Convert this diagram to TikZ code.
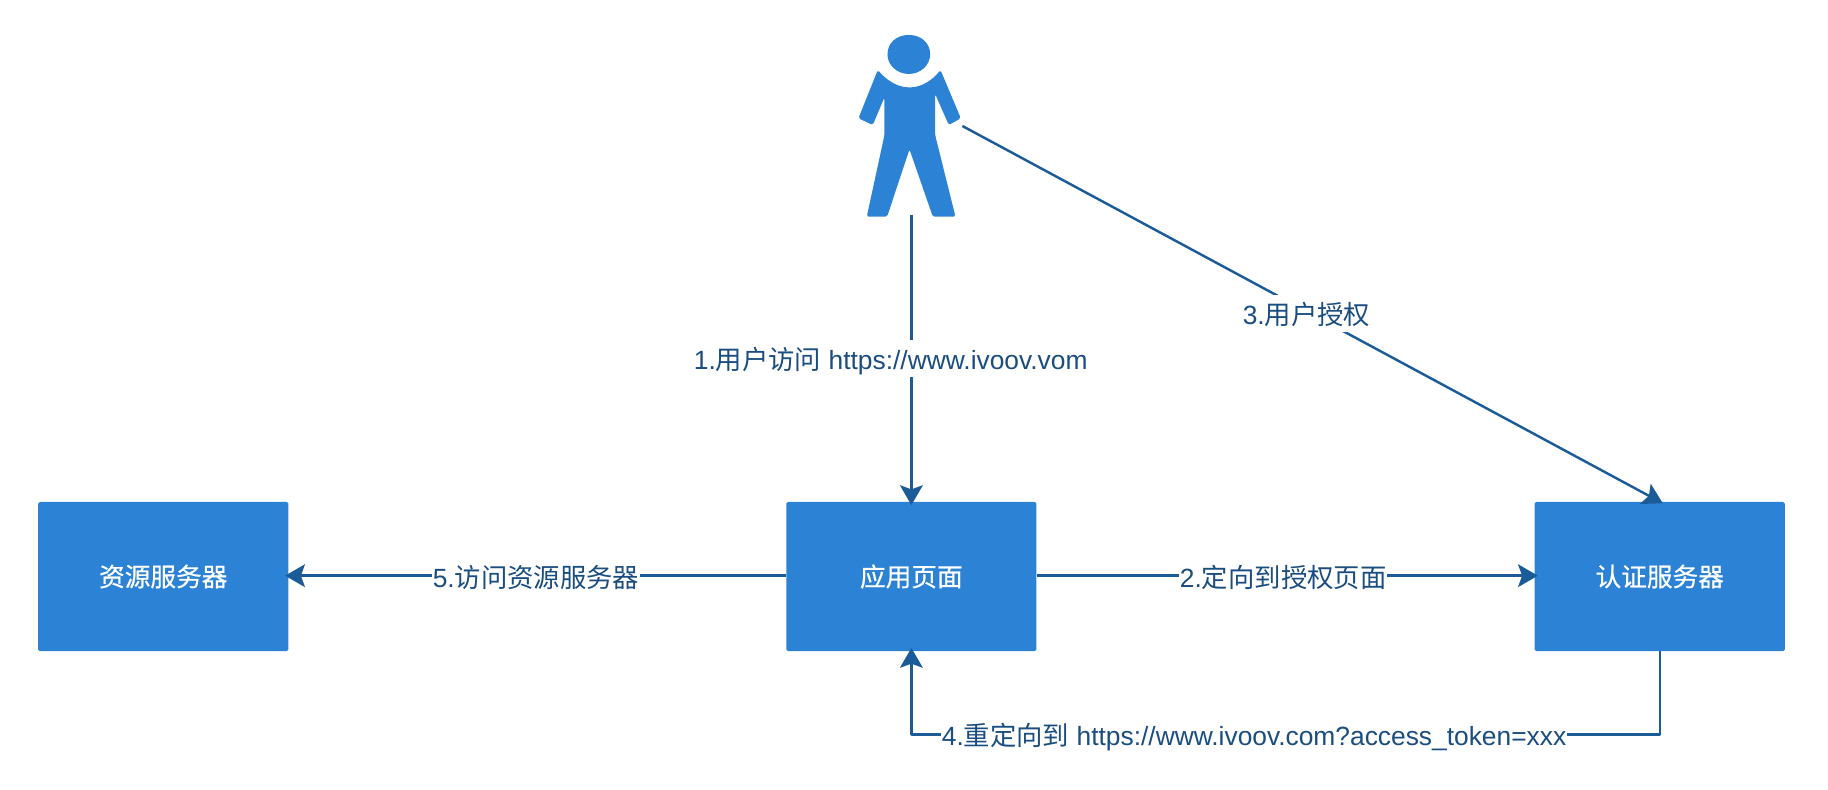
\documentclass[tikz,border=0pt]{standalone}
\usepackage{fontspec}
\setmainfont{Liberation Sans}
\newfontfamily\cjk{Noto Sans CJK SC}
\newfontfamily\cjkm[FakeBold=0.6]{Noto Sans CJK SC}
\usetikzlibrary{arrows.meta}
\definecolor{boxblue}{HTML}{2C83D5}
\definecolor{linkblue}{HTML}{1B5C98}
\definecolor{labelblue}{HTML}{1A4D80}
\tikzset{
  server/.style={fill=boxblue,draw=none,rounded corners=1.5pt,minimum width=214.5pt,minimum height=128pt,inner sep=0pt,text=white,font=\fontsize{22}{26}\selectfont\cjkm,anchor=north west},
  link/.style={draw=linkblue,line width=2.1pt,-{Stealth[length=17pt,width=19.5pt,inset=3.5pt]},shorten >=-3pt,line join=round},
  edgelabel/.style={fill=white,text=labelblue,inner xsep=0.5pt,inner ysep=0pt,minimum height=32pt,text height=23pt,text depth=4.6pt,font=\fontsize{22.6}{26}\selectfont},
  figure/.style={fill=boxblue,draw=none}
}
\begin{document}
\begin{tikzpicture}[x=1pt,y=-1pt]
\useasboundingbox (0,0) rectangle (1567,677.2);
\node[server] (res) at (32.5,430) {资源服务器};
\node[server] (app) at (673.8,430) {应用页面};
\node[server] (auth) at (1315.3,430) {认证服务器};
\node[inner sep=0pt,minimum width=90pt,minimum height=158pt] (user) at (781,107) {};
\coordinate (userarm) at (825,108);
\coordinate (userfoot) at (app.north |- 0,184);
\begin{scope}[shift={(719.6,17.1)},x=0.2858pt,y=-0.2858pt]
\fill[figure] (144,103) .. controls (144,70) and (170,45) .. (208,45) .. controls (246,45) and (272,70) .. (272,103) .. controls (272,136) and (243,162) .. (208,162) .. controls (173,162) and (144,136) .. (144,103) -- cycle;
\fill[figure,rounded corners=1.5pt] (115,150) .. controls (140,180) and (175,202) .. (210,202) .. controls (245,202) and (280,180) .. (303,150)
  -- (364,295) -- (328,315) -- (287,222) -- (287,345) -- (348,590) -- (280,590) -- (210,388) -- (143,590) -- (82,590) -- (135,345) -- (135,232) -- (100,315) -- (57,295) -- cycle;
\end{scope}
\draw[link] (userfoot) -- (app.north);
\draw[link] (userarm) -- (auth.north);
\draw[link] (app.east |- 0,493.5) coordinate (appe) -- (auth.west |- appe);
\draw[link] (app.west |- 0,493.5) coordinate (appw) -- (res.east |- appw);
\draw[link] (auth.south) |- (app.south |- 0,629.5) -- (app.south);
\node[edgelabel] (l1) at (763.5,307.5) {1.{\cjk 用户访问} https://www.ivoov.vom};
\node[edgelabel] (l2) at (1100,494) {2.{\cjk 定向到授权页面}};
\node[edgelabel] (l3) at (1120,269) {3.{\cjk 用户授权}};
\node[edgelabel] (l4) at (1075,629.5) {4.{\cjk 重定向到} https://www.ivoov.com?access\_token=xxx};
\node[edgelabel] (l5) at (459.5,494) {5.{\cjk 访问资源服务器}};
\end{tikzpicture}
\end{document}
